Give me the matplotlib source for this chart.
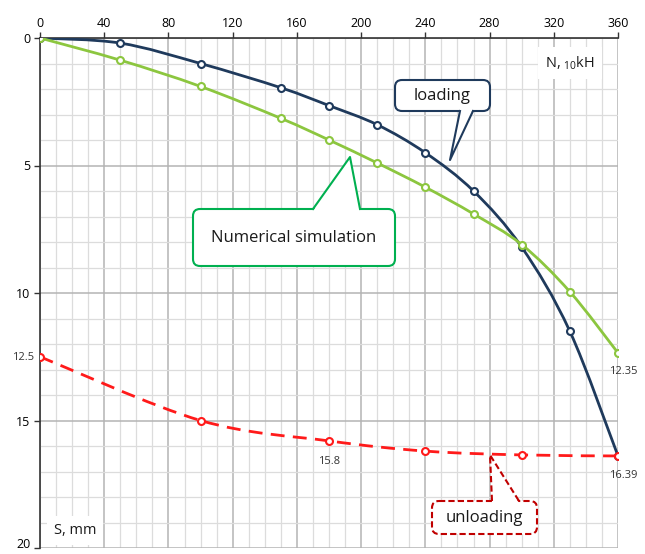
import matplotlib.pyplot as plt
from matplotlib.path import Path
from matplotlib.patches import PathPatch, FancyBboxPatch, Polygon
from matplotlib.transforms import Affine2D
import numpy as np

plt.rcParams['font.family'] = ['Open Sans', 'DejaVu Sans']

# load N (x10 kN) vs settlement S (mm)
n_load = [0, 50, 100, 150, 180, 210, 240, 270, 300, 330, 360]
s_load = [0, 0.2, 1.0, 1.95, 2.65, 3.4, 4.5, 6.0, 8.2, 11.5, 16.39]
s_num = [0, 0.87, 1.9, 3.15, 4.0, 4.9, 5.85, 6.9, 8.1, 9.95, 12.35]

n_unload = [0, 100, 180, 240, 300, 360]
s_unload = [12.5, 15.0, 15.8, 16.2, 16.35, 16.39]

navy = "#1f3a5c"
green = "#8cc63f"
red = "#ff1a1a"


def smooth_path(xs, ys):
    # excel-like smoothed line (catmull-rom as bezier)
    p = np.column_stack([xs, ys]).astype(float)
    ext = np.vstack([p[0], p, p[-1]])
    verts = [p[0]]
    codes = [Path.MOVETO]
    for i in range(len(p) - 1):
        p0, p1, p2, p3 = ext[i], ext[i + 1], ext[i + 2], ext[i + 3]
        verts += [p1 + (p2 - p0) / 6, p2 - (p3 - p1) / 6, p2]
        codes += [Path.CURVE4] * 3
    return Path(verts, codes)


fig = plt.figure(figsize=(6.45, 5.54), dpi=100)
ax = fig.add_axes([40 / 645, 1 - 548 / 554, 578 / 645, 510 / 554])

ax.set_xlim(0, 360)
ax.set_ylim(20, 0)
ax.xaxis.tick_top()
ax.set_xticks(range(0, 361, 40))
ax.set_yticks([0, 5, 10, 15, 20])
ax.set_xticks(range(0, 361, 10), minor=True)
ax.set_yticks(range(0, 21), minor=True)
ax.grid(True, which="minor", color="#dcdcdc", linewidth=0.9)
ax.grid(True, which="major", color="#b4b4b4", linewidth=1.1)
ax.tick_params(which="minor", length=0)
ax.tick_params(which="major", length=4, width=1, color="#333333", labelsize=9, pad=3)
ax.tick_params(axis="x", pad=2)
for side in ["right", "bottom"]:
    ax.spines[side].set_visible(False)
for side in ["left", "top"]:
    ax.spines[side].set_color("#333333")
    ax.spines[side].set_linewidth(1.2)
ax.set_axisbelow(True)
# keep the bottom label inside the picture
ax.get_yticklabels()[-1].set_va("baseline")

ax.add_patch(PathPatch(smooth_path(n_load, s_load), fill=False, edgecolor=navy, lw=2, zorder=3))
ax.plot(n_load, s_load, "o", ms=5, mfc="white", mec=navy, mew=1.5, zorder=4)
ax.add_patch(PathPatch(smooth_path(n_load, s_num), fill=False, edgecolor=green, lw=2, zorder=5))
ax.plot(n_load, s_num, "o", ms=5, mfc="white", mec=green, mew=1.5, zorder=6)
ax.add_patch(PathPatch(smooth_path(n_unload, s_unload), fill=False, edgecolor=red, lw=2,
                       linestyle=(0, (5, 3)), zorder=5))
ax.plot(n_unload, s_unload, "o", ms=5, mfc="white", mec=red, mew=1.5, zorder=6)

# pixel coords, origin at top-left
px = Affine2D().scale(1 / 645, -1 / 554).translate(0, 1) + fig.transFigure


def callout(x0, y0, x1, y1, tail, text, color, fs, ls="-"):
    box = FancyBboxPatch((x0, y0), x1 - x0, y1 - y0, boxstyle="round,pad=0,rounding_size=7",
                         transform=px, facecolor="white", edgecolor=color, lw=1.5,
                         linestyle=ls, zorder=10)
    fig.add_artist(box)
    (bx1, by), (ax_, ay), (bx2, _) = tail
    off = 2 if ay < by else -2
    fig.add_artist(Polygon([(bx1, by + off), (ax_, ay), (bx2, by + off)], closed=True,
                           transform=px, facecolor="white", edgecolor="none", zorder=11))
    fig.add_artist(plt.Line2D([bx1, ax_, bx2], [by, ay, by], transform=px, color=color,
                              lw=1.5, linestyle=ls, zorder=12))
    fig.text((x0 + x1) / 2 / 645, 1 - (y0 + y1) / 2 / 554, text, ha="center", va="center",
             fontsize=fs, color="#1a1a1a", zorder=13)


callout(395, 80, 490, 111, [(460, 111), (450, 160), (473, 111)], "loading", navy, 12)
callout(193, 209, 395, 266, [(313, 209), (350, 157), (360, 209)], "Numerical simulation",
        "#00b050", 12)
callout(432, 501, 537, 534, [(492, 501), (490, 455), (519, 501)], "unloading", "#c00000", 12,
        ls=(0, (3, 1.5)))

# axis titles
fig.text(570 / 645, 1 - 63 / 554, "N, $\\mathregular{_{10}}$kH", ha="center", va="center",
         fontsize=10.5, color="#1a1a1a", bbox=dict(fc="white", ec="none", pad=5))
fig.text(75 / 645, 1 - 530 / 554, "S, mm", ha="center", va="center", fontsize=10.5,
         color="#1a1a1a", bbox=dict(fc="white", ec="none", pad=5))

# data labels
for x, y, t in [(23, 358, "12.5"), (623, 371, "12.35"), (329, 462, "15.8"), (623, 476, "16.39")]:
    fig.text(x / 645, 1 - y / 554, t, ha="center", va="center", fontsize=8, color="#333333",
             zorder=15)

fig.savefig("out.png", dpi=100)
